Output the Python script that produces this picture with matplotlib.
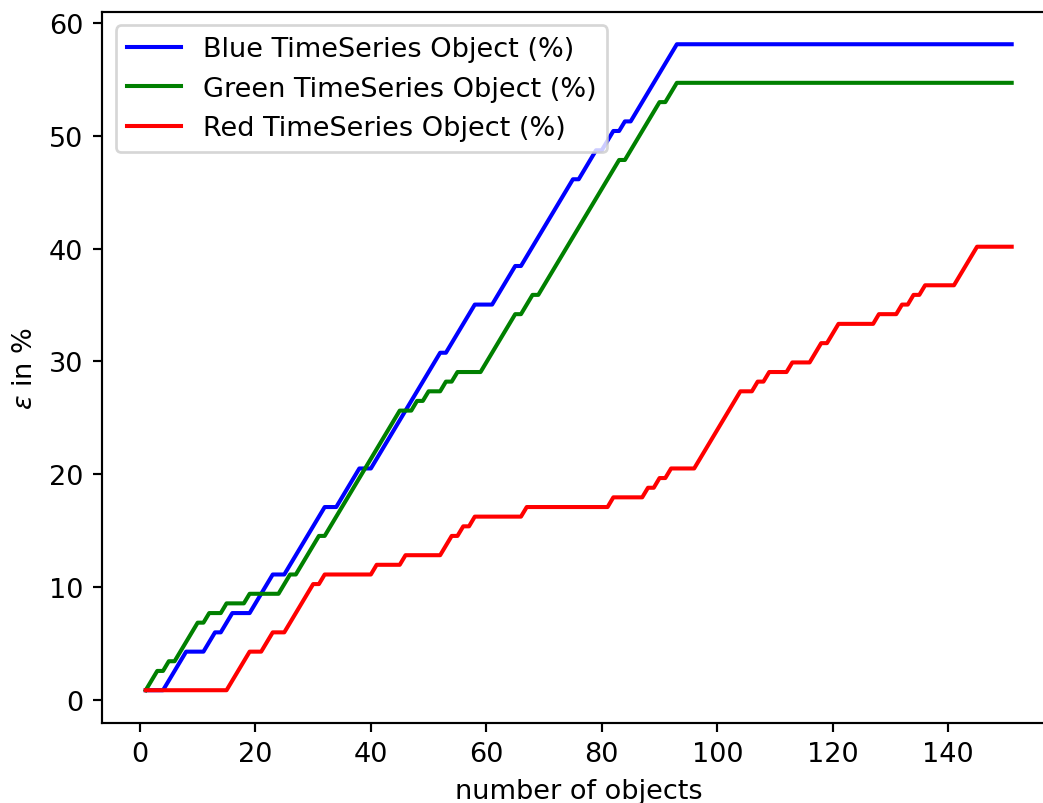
"""Erro acumulado (epsilon) por número de objetos - três séries temporais."""

import matplotlib
matplotlib.use("Agg")

import matplotlib.pyplot as plt

# ---------------------------------------------------------------------------
# Dados (vértices das curvas em degrau)
# ---------------------------------------------------------------------------

blue_x = [1, 4, 8, 11, 13, 14, 16, 19, 23, 25, 32, 34, 38, 40, 52, 53, 58, 61,
          65, 66, 75, 76, 79, 80, 82, 83, 84, 85, 93, 151]
blue_y = [0.85, 0.85, 4.27, 4.27, 5.98, 5.98, 7.69, 7.69, 11.11, 11.11,
          17.09, 17.09, 20.51, 20.51, 30.77, 30.77, 35.04, 35.04, 38.46, 38.46,
          46.15, 46.15, 48.72, 48.72, 50.43, 50.43, 51.28, 51.28, 58.12, 58.12]

green_x = [1, 3, 4, 5, 6, 10, 11, 12, 14, 15, 18, 19, 24, 26, 27, 31, 32, 45,
           47, 48, 49, 50, 52, 53, 54, 55, 59, 65, 66, 68, 69, 83, 84, 90, 91,
           93, 151]
green_y = [0.85, 2.56, 2.56, 3.42, 3.42, 6.84, 6.84, 7.69, 7.69, 8.55, 8.55,
           9.40, 9.40, 11.11, 11.11, 14.53, 14.53, 25.64, 25.64, 26.50, 26.50,
           27.35, 27.35, 28.21, 28.21, 29.06, 29.06, 34.19, 34.19, 35.90, 35.90,
           47.86, 47.86, 52.99, 52.99, 54.70, 54.70]

red_x = [1, 15, 19, 21, 23, 25, 30, 31, 32, 40, 41, 45, 46, 52, 54, 55, 56, 57,
         58, 66, 67, 81, 82, 87, 88, 89, 90, 91, 92, 96, 104, 106, 107, 108,
         109, 112, 113, 116, 118, 119, 121, 127, 128, 131, 132, 133, 134, 135,
         136, 141, 145, 151]
red_y = [0.85, 0.85, 4.27, 4.27, 5.98, 5.98, 10.26, 10.26, 11.11, 11.11,
         11.97, 11.97, 12.82, 12.82, 14.53, 14.53, 15.38, 15.38, 16.24, 16.24,
         17.09, 17.09, 17.95, 17.95, 18.80, 18.80, 19.66, 19.66, 20.51, 20.51,
         27.35, 27.35, 28.21, 28.21, 29.06, 29.06, 29.91, 29.91, 31.62, 31.62,
         33.33, 33.33, 34.19, 34.19, 35.04, 35.04, 35.90, 35.90, 36.75, 36.75,
         40.17, 40.17]

series = [
    (blue_x, blue_y, "blue", "Blue TimeSeries Object (%)"),
    (green_x, green_y, "green", "Green TimeSeries Object (%)"),
    (red_x, red_y, "red", "Red TimeSeries Object (%)"),
]

DPI = 195

fig = plt.figure(figsize=(1043 / DPI, 804 / DPI), dpi=DPI)
# eixo se estende um pouco além da borda direita (como no original recortado)
ax = fig.add_axes([0.0982, 0.1001, 0.9133, 0.8838])

for xs, ys, cor, rotulo in series:
    ax.plot(xs, ys, color=cor, linewidth=1.5, label=rotulo)

ax.set_xlabel("number of objects")
ax.set_ylabel(r"$\varepsilon$ in %")
ax.set_xticks(range(0, 141, 20))
ax.set_yticks(range(0, 61, 10))
ax.legend(loc="upper left")

fig.savefig("out.png", dpi=DPI)
